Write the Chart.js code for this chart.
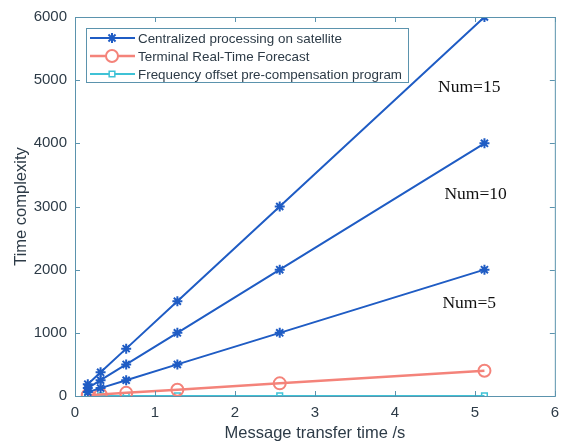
<!DOCTYPE html>
<html><head><meta charset="utf-8">
<script src="https://cdn.jsdelivr.net/npm/chart.js@4"></script>
<style>html,body{margin:0;padding:0;background:#fff}#wrap{width:567px;height:447px}</style>
</head><body><div id="wrap"><canvas id="c" width="567" height="447"></canvas></div>
<script>
const xValues = [0.16, 0.32, 0.64, 1.28, 2.56, 5.12];
const num15 = [187, 375, 750, 1500, 3000, 6000];
const num10 = [125, 250, 500, 1000, 2000, 4000];
const num5 = [62, 125, 250, 500, 1000, 2000];
const terminalForecast = [12, 25, 50, 100, 200, 400];
const freqOffset = [1, 1, 1, 1, 1, 1];
const xTicks = [0, 1, 2, 3, 4, 5, 6];
const yTicks = [0, 1000, 2000, 3000, 4000, 5000, 6000];
const legendLabels = ['Centralized processing on satellite', 'Terminal Real-Time Forecast', 'Frequency offset pre-compensation program'];
const annotations = [
  {text: 'Num=15', x: 4.93, y: 4880},
  {text: 'Num=10', x: 5.01, y: 3190},
  {text: 'Num=5', x: 4.93, y: 1460}
];

const BLUE = '#1f5cc4', RED = '#f4837a', CYAN = '#3fc2d6';
const AXIS = '#5b93ad', TXT = '#2d3b47';
const pts = arr => arr.map((v, i) => ({x: xValues[i], y: v}));
function blueSet(arr){ return {data: pts(arr), borderColor: BLUE, backgroundColor: BLUE, borderWidth: 2, pointStyle: 'star', pointRadius: 5, pointBorderWidth: 2, pointBorderColor: BLUE}; }

const datasets = [
  {...blueSet(num15), label: legendLabels[0]},
  {...blueSet(num10), label: 'n10'},
  {...blueSet(num5), label: 'n5'},
  {label: legendLabels[1], data: pts(terminalForecast), borderColor: RED, backgroundColor: 'rgba(0,0,0,0)', borderWidth: 2.5, pointStyle: 'circle', pointRadius: 6, pointBorderWidth: 2, pointBorderColor: RED},
  {label: legendLabels[2], data: pts(freqOffset), borderColor: CYAN, backgroundColor: 'rgba(0,0,0,0)', borderWidth: 2, pointStyle: 'rect', pointRadius: 4, pointBorderWidth: 1.5, pointBorderColor: CYAN}
];
const legendIdx = [0, 3, 4];

const deco = {
  id: 'deco',
  afterDatasetsDraw(chart) {
    const {ctx, chartArea: a, scales: {x, y}} = chart;
    ctx.save();
    ctx.strokeStyle = AXIS; ctx.lineWidth = 1;
    ctx.strokeRect(a.left + 0.5, a.top + 0.5, a.right - a.left, a.bottom - a.top);
    const tl = 5;
    ctx.beginPath();
    xTicks.forEach(v => { const px = Math.round(x.getPixelForValue(v)) + 0.5;
      ctx.moveTo(px, a.bottom); ctx.lineTo(px, a.bottom - tl);
      ctx.moveTo(px, a.top); ctx.lineTo(px, a.top + tl); });
    yTicks.forEach(v => { const py = Math.round(y.getPixelForValue(v)) + 0.5;
      ctx.moveTo(a.left, py); ctx.lineTo(a.left + tl, py);
      ctx.moveTo(a.right, py); ctx.lineTo(a.right - tl, py); });
    ctx.stroke();
    ctx.font = '17.5px "Liberation Serif"';
    ctx.fillStyle = '#111'; ctx.textAlign = 'center'; ctx.textBaseline = 'middle';
    annotations.forEach(an => ctx.fillText(an.text, x.getPixelForValue(an.x), y.getPixelForValue(an.y)));
    const lx = a.left + 11, ly = a.top + 11, lw = 322, lh = 54;
    ctx.fillStyle = '#fff'; ctx.fillRect(lx, ly, lw, lh);
    ctx.strokeStyle = AXIS; ctx.lineWidth = 1; ctx.strokeRect(lx + 0.5, ly + 0.5, lw, lh);
    ctx.font = '13.4px "Liberation Sans"'; ctx.textAlign = 'left';
    legendIdx.forEach((di, r) => {
      const ds = datasets[di];
      const cy = ly + 10 + r * 18;
      ctx.strokeStyle = ds.borderColor; ctx.lineWidth = ds.borderWidth;
      ctx.beginPath(); ctx.moveTo(lx + 4, cy); ctx.lineTo(lx + 49, cy); ctx.stroke();
      ctx.strokeStyle = ds.pointBorderColor; ctx.lineWidth = ds.pointBorderWidth;
      ctx.fillStyle = ds.pointStyle === 'star' ? BLUE : '#fff';
      Chart.helpers.drawPoint(ctx, {pointStyle: ds.pointStyle, radius: ds.pointRadius, borderWidth: ds.pointBorderWidth}, lx + 26, cy);
      ctx.fillStyle = TXT;
      ctx.fillText(legendLabels[r], lx + 52, cy + 1);
    });
    ctx.restore();
  }
};

new Chart(document.getElementById('c'), {
  type: 'line',
  data: {datasets},
  options: {
    responsive: false, animation: false,
    layout: {padding: {left: 0, right: 10, top: 13, bottom: 0}},
    plugins: {legend: {display: false}, tooltip: {enabled: false}},
    scales: {
      x: {type: 'linear', min: 0, max: 6,
        afterFit(s){ s.height = 51; },
        afterBuildTicks(s){ s.ticks = xTicks.map(v => ({value: v})); },
        grid: {display: false, drawTicks: false},
        border: {display: false},
        ticks: {padding: 8, color: TXT, font: {family: 'Liberation Sans', size: 15}, maxRotation: 0, callback: v => String(v)},
        title: {display: true, text: 'Message transfer time /s', color: TXT, font: {family: 'Liberation Sans', size: 16.5}, padding: {top: 0, bottom: 4}}
      },
      y: {min: 0, max: 6000,
        afterFit(s){ s.width = 75; },
        afterBuildTicks(s){ s.ticks = yTicks.map(v => ({value: v})); },
        grid: {display: false, drawTicks: false},
        border: {display: false},
        ticks: {padding: 8, color: TXT, font: {family: 'Liberation Sans', size: 15}, callback: v => String(v)},
        title: {display: true, text: 'Time complexity', color: TXT, font: {family: 'Liberation Sans', size: 16.5}, padding: {top: 12, bottom: 0}}
      }
    }
  },
  plugins: [deco]
});
</script></body></html>
